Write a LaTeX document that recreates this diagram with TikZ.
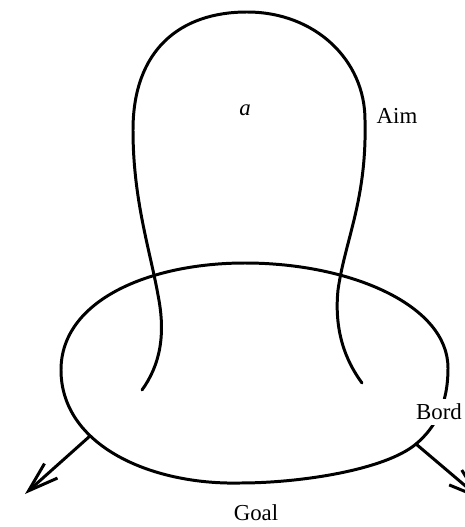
\documentclass[tikz,border=0pt]{standalone}
\usepackage{fontspec}
\setmainfont{Liberation Serif}
\usetikzlibrary{arrows.meta}

\tikzset{
    curve/.style={line width=1.7pt, line cap=round, line join=round},
    goalarrow/.style={curve, -{Straight Barb[length=6mm, width=3.9mm, line width=1.7pt]}},
    lbl/.style={font=\fontsize{13}{15}\selectfont, inner sep=1pt}
}

\begin{document}
\begin{tikzpicture}[x=0.02cm, y=-0.02cm]
    % Frame
    \useasboundingbox (0,0) rectangle (465,527);

    % Bord (closed oval)
    \draw[curve] (245,263) .. controls (350,263) and (448,305) .. (448,368)
        .. controls (448,405) and (435,428) .. (416,444)
        .. controls (385,470) and (300,483) .. (240,483)
        .. controls (150,485) and (61,445) .. (61,370)
        .. controls (61,300) and (150,263) .. cycle;

    % Aim (open dome)
    \draw[curve] (142,390) .. controls (160,365) and (166,335) .. (158,295)
        .. controls (150,250) and (133,200) .. (133,130)
        .. controls (133,50) and (180,12) .. (247,12)
        .. controls (315,12) and (365,60) .. (365,120)
        .. controls (367,200) and (345,240) .. (338,290)
        .. controls (334,330) and (345,360) .. (362,383);

    % Labels
    \node[lbl, font=\fontsize{13}{15}\selectfont\itshape] (a) at (245,110) {a};
    \node[lbl] (aim) at (397,116) {Aim};
    \node[lbl, fill=white, inner sep=3pt] (bord) at (439,412) {Bord};
    \node[lbl] (goal) at (256,513) {Goal};

    % Goal arrows
    \coordinate (exitL) at (90,436);
    \coordinate (exitR) at (416,444);
    \coordinate (tipL) at (25,494);
    \coordinate (tipR) at (482,500);
    \draw[goalarrow] (exitL) -- (tipL);
    \draw[goalarrow] (exitR) -- (tipR);
\end{tikzpicture}
\end{document}
